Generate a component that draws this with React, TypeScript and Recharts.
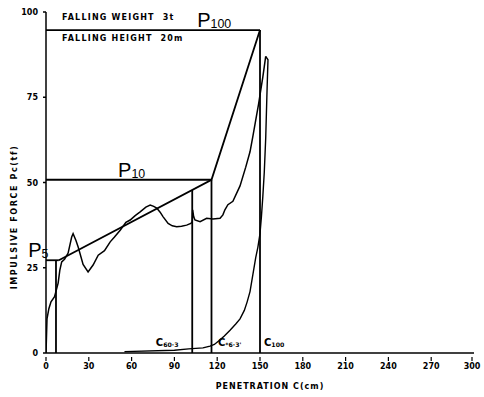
import {
  LineChart,
  Line,
  XAxis,
  YAxis,
  ReferenceDot,
  Label,
} from 'recharts'

// penetration C (cm) / impulsive force Pc (tf)
const cmTicks = [0, 30, 60, 90, 120, 150, 180, 210, 240, 270, 300]
const forceTicks = [0, 25, 50, 75, 100]

const measuredForce = [
  { x: 0, y: 0 }, { x: 0.7, y: 10 }, { x: 2, y: 13 }, { x: 3.5, y: 15 },
  { x: 6, y: 16.5 }, { x: 8.5, y: 20.5 }, { x: 9.7, y: 24.3 }, { x: 11, y: 26.7 },
  { x: 13, y: 27.5 }, { x: 15.5, y: 29.3 }, { x: 18, y: 34 }, { x: 19, y: 35 },
  { x: 21, y: 33 }, { x: 22.6, y: 31 }, { x: 26, y: 26 }, { x: 29.5, y: 23.8 },
  { x: 33, y: 25.8 }, { x: 36.6, y: 28.7 }, { x: 41, y: 30 }, { x: 45, y: 32.6 },
  { x: 48, y: 34 }, { x: 52, y: 36 }, { x: 56, y: 38.3 }, { x: 59, y: 39 },
  { x: 62.5, y: 40.3 }, { x: 66, y: 41.4 }, { x: 70, y: 42.8 }, { x: 73, y: 43.4 },
  { x: 75.5, y: 43 }, { x: 77.6, y: 42.5 }, { x: 80, y: 41.3 }, { x: 82, y: 40 },
  { x: 85.6, y: 38 }, { x: 88.5, y: 37.3 }, { x: 91.6, y: 37 }, { x: 95, y: 37.2 },
  { x: 98.6, y: 37.5 }, { x: 101.5, y: 38 }, { x: 102.5, y: 38.5 }, { x: 102.8, y: 42 },
  { x: 103.5, y: 40 }, { x: 104.4, y: 39 }, { x: 108, y: 38.5 }, { x: 112.6, y: 39.5 },
  { x: 117, y: 39.3 }, { x: 122, y: 39.5 }, { x: 124, y: 40.5 }, { x: 125.4, y: 42 },
  { x: 127.5, y: 43.5 }, { x: 131, y: 44.5 }, { x: 136, y: 49 }, { x: 140, y: 54.5 },
  { x: 143, y: 59 }, { x: 145, y: 63.5 }, { x: 147.5, y: 69.5 }, { x: 149, y: 73 },
  { x: 150.5, y: 77 }, { x: 152, y: 81 }, { x: 153, y: 84 }, { x: 154, y: 87 },
]

const secondCurve = [
  { x: 55, y: 0.4 }, { x: 90, y: 0.8 }, { x: 100, y: 1.2 }, { x: 110, y: 1.5 },
  { x: 115, y: 2 }, { x: 118, y: 2.5 }, { x: 121, y: 3.5 }, { x: 125, y: 5 },
  { x: 129, y: 6.7 }, { x: 133, y: 8.5 }, { x: 136, y: 10 }, { x: 139, y: 12.5 },
  { x: 141, y: 15 }, { x: 143, y: 18 }, { x: 145, y: 23 }, { x: 147, y: 28 },
  { x: 148.5, y: 31 }, { x: 150, y: 35 }, { x: 151, y: 40 }, { x: 152, y: 46 },
  { x: 153, y: 53 }, { x: 154, y: 63 }, { x: 154.8, y: 75 }, { x: 155.3, y: 82 },
  { x: 155.6, y: 86 }, { x: 154, y: 87 },
]

const p5Level = [{ x: 0, y: 27.2 }, { x: 9, y: 27.2 }]
const c5Drop = [{ x: 7, y: 0 }, { x: 7, y: 27.2 }]
const loadLine = [{ x: 9, y: 27.2 }, { x: 116, y: 50.8 }, { x: 150, y: 94.7 }]
const p10Level = [{ x: 0, y: 50.8 }, { x: 116, y: 50.8 }]
const p100Level = [{ x: 0, y: 94.7 }, { x: 150, y: 94.7 }]
const cDrop1 = [{ x: 102.5, y: 0 }, { x: 102.5, y: 47.8 }]
const cDrop2 = [{ x: 116, y: 0 }, { x: 116, y: 50.8 }]
const cDrop3 = [{ x: 150, y: 0 }, { x: 150, y: 94.7 }]

const guides = [p5Level, c5Drop, loadLine, p10Level, p100Level, cDrop1, cDrop2, cDrop3]

const FONT = '"DejaVu Sans", sans-serif'
const HAND = '"Liberation Sans", sans-serif'

// eslint-disable-next-line @typescript-eslint/no-explicit-any
function XTick({ x, y, payload }: any) {
  return (
    <g>
      <line x1={x} x2={x} y1={y - 4} y2={y} stroke="#000" strokeWidth={1.2} />
      <text
        x={x}
        y={y + 8}
        textAnchor="middle"
        fontFamily={FONT}
        fontWeight="bold"
        fontSize={8}
        fill="#000"
      >
        {payload.value}
      </text>
    </g>
  )
}

// eslint-disable-next-line @typescript-eslint/no-explicit-any
function YTick({ x, y, payload }: any) {
  return (
    <text
      x={x - 3}
      y={y + 3}
      textAnchor="end"
      fontFamily={FONT}
      fontWeight="bold"
      fontSize={8}
      fill="#000"
    >
      {payload.value}
    </text>
  )
}

function tag(main: string, sub: string, size: number, handwritten = false) {
  // eslint-disable-next-line @typescript-eslint/no-explicit-any
  return (props: any) => {
    const vb = props.viewBox
    return (
      <text
        x={vb.x}
        y={vb.y}
        fontFamily={handwritten ? HAND : FONT}
        fontWeight={handwritten ? 'normal' : 'bold'}
        fontSize={size}
        fill="#000"
      >
        <tspan>{main}</tspan>
        {sub && (
          <tspan fontSize={size * 0.62} dy={1}>
            {sub}
          </tspan>
        )}
      </text>
    )
  }
}

function note(text: string) {
  // eslint-disable-next-line @typescript-eslint/no-explicit-any
  return (props: any) => (
    <text
      x={props.viewBox.x}
      y={props.viewBox.y}
      fontFamily={FONT}
      fontWeight="bold"
      fontSize={8}
      letterSpacing={1.2}
      fill="#000"
      style={{ whiteSpace: 'pre' }}
    >
      {text}
    </text>
  )
}

export default function App() {
  return (
    <div style={{ position: 'absolute', left: 0, top: 0, background: '#fff' }}>
      <LineChart
        width={484}
        height={397}
        margin={{ top: 12, right: 10, left: 0, bottom: 0 }}
      >
        <XAxis
          type="number"
          dataKey="x"
          domain={[0, 300]}
          ticks={cmTicks}
          height={44}
          tickLine={false}
          tick={<XTick />}
          stroke="#000"
          strokeWidth={1.5}
          allowDataOverflow
        >
          <Label
            content={() => (
              <text
                x={270}
                y={389}
                textAnchor="middle"
                fontFamily={FONT}
                fontWeight="bold"
                fontSize={8}
                letterSpacing={1}
                fill="#000"
              >
                PENETRATION C(cm)
              </text>
            )}
          />
        </XAxis>
        <YAxis
          type="number"
          dataKey="y"
          domain={[0, 100]}
          ticks={forceTicks}
          width={46}
          tickSize={3}
          tick={<YTick />}
          stroke="#000"
          strokeWidth={1.5}
          allowDataOverflow
        >
          <Label
            content={() => (
              <text
                transform="translate(17,217) rotate(-90)"
                textAnchor="middle"
                fontFamily={FONT}
                fontWeight="bold"
                fontSize={8}
                letterSpacing={1.6}
                fill="#000"
              >
                IMPULSIVE FORCE Pc(tf)
              </text>
            )}
          />
        </YAxis>

        {guides.map((seg, i) => (
          <Line
            key={i}
            data={seg}
            dataKey="y"
            type="linear"
            stroke="#000"
            strokeWidth={1.8}
            dot={false}
            isAnimationActive={false}
          />
        ))}
        <Line
          data={measuredForce}
          dataKey="y"
          type="linear"
          stroke="#000"
          strokeWidth={1.5}
          dot={false}
          isAnimationActive={false}
        />
        <Line
          data={secondCurve}
          dataKey="y"
          type="linear"
          stroke="#000"
          strokeWidth={1.4}
          dot={false}
          isAnimationActive={false}
        />

        <ReferenceDot x={11.2} y={97.6} r={0} stroke="none" ifOverflow="visible" label={note('FALLING WEIGHT  3t')} />
        <ReferenceDot x={11.2} y={91.5} r={0} stroke="none" ifOverflow="visible" label={note('FALLING HEIGHT  20m')} />
        <ReferenceDot x={106} y={95.6} r={0} stroke="none" ifOverflow="visible" label={tag('P', '100', 20, true)} />
        <ReferenceDot x={50.5} y={51.6} r={0} stroke="none" ifOverflow="visible" label={tag('P', '10', 20, true)} />
        <ReferenceDot x={-12.5} y={28.2} r={0} stroke="none" ifOverflow="visible" label={tag('P', '5', 20, true)} />
        <ReferenceDot x={77} y={2} r={0} stroke="none" ifOverflow="visible" label={tag('C', '60·3', 10)} />
        <ReferenceDot x={120.5} y={2} r={0} stroke="none" ifOverflow="visible" label={tag('C', '*6·3\'', 10)} />
        <ReferenceDot x={152.8} y={2} r={0} stroke="none" ifOverflow="visible" label={tag('C', '100', 10)} />
      </LineChart>
    </div>
  )
}
